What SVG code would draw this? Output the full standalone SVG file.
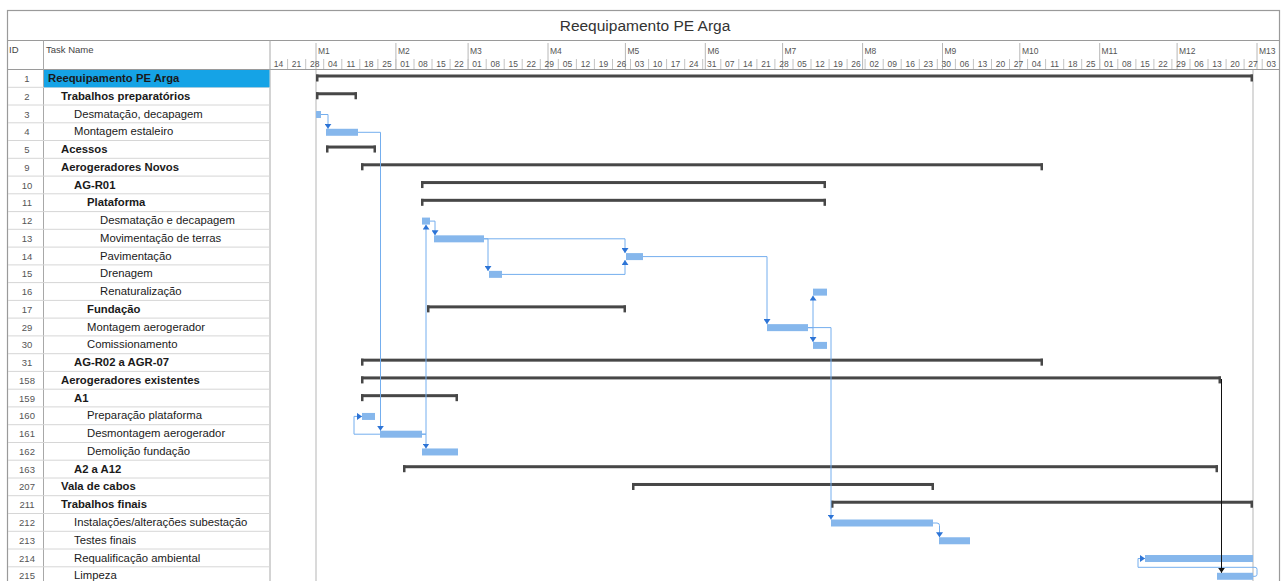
<svg xmlns="http://www.w3.org/2000/svg" width="1284" height="581" viewBox="0 0 1284 581">
<style>
text{font-family:"Liberation Sans",Arial,sans-serif}
.nm{font-size:11.3px;fill:#1a1a1a}
.b{font-weight:bold}
.id{font-size:9.5px;fill:#555;text-anchor:middle}
.hd{font-size:9.5px;fill:#444}
.ts{font-size:8.5px;fill:#555}
.wk{font-size:8.5px;fill:#555;text-anchor:middle}
.sb{fill:#474747}
.tb{fill:#86b7ec}
.cn{fill:none;stroke:#74aeee;stroke-width:1}
.grid{stroke:#d6d6d6;stroke-width:1}
.frame{fill:none;stroke:#9a9a9a;stroke-width:1.2}
</style>
<defs>
<marker id="ab" viewBox="0 0 5 7" refX="5" refY="3.5" markerWidth="5" markerHeight="7" markerUnits="userSpaceOnUse" orient="auto"><path d="M0,0 L5,3.5 L0,7 z" fill="#2d74d6"/></marker>
<marker id="ak" viewBox="0 0 5 7" refX="5" refY="3.5" markerWidth="5" markerHeight="7" markerUnits="userSpaceOnUse" orient="auto"><path d="M0,0 L5,3.5 L0,7 z" fill="#111"/></marker>
</defs>
<rect width="1284" height="581" fill="#fff"/>
<!-- frame -->
<rect class="frame" x="7.5" y="10.5" width="1272" height="580"/>
<line x1="7.5" y1="40.5" x2="1279.5" y2="40.5" stroke="#9a9a9a"/>
<line x1="7.5" y1="69.5" x2="1279.5" y2="69.5" stroke="#9a9a9a"/>
<line x1="43.5" y1="40.5" x2="43.5" y2="581" stroke="#a8a8a8"/>
<line x1="270" y1="40.5" x2="270" y2="581" stroke="#a8a8a8"/>
<text x="645" y="31" text-anchor="middle" style="font-size:15.5px;fill:#333">Reequipamento PE Arga</text>
<text class="hd" x="9" y="53">ID</text>
<text class="hd" x="46" y="53">Task Name</text>
<!-- timescale -->
<g id="timescale">
<path d="M316,43V69M395.9,43V69M468.1,43V69M548,43V69M625.4,43V69M705.3,43V69M782.6,43V69M862.6,43V69M942.5,43V69M1019.8,43V69M1099.7,43V69M1177.1,43V69M1257,43V69" stroke="#b8b8b8" stroke-width="1"/>
<path d="M287.6,59V69M305.7,59V69M323.7,59V69M341.8,59V69M359.8,59V69M377.9,59V69M395.9,59V69M414,59V69M432,59V69M450.1,59V69M468.1,59V69M486.2,59V69M504.2,59V69M522.2,59V69M540.3,59V69M558.3,59V69M576.4,59V69M594.4,59V69M612.5,59V69M630.5,59V69M648.6,59V69M666.6,59V69M684.7,59V69M702.7,59V69M720.8,59V69M738.8,59V69M756.9,59V69M774.9,59V69M793,59V69M811,59V69M829.1,59V69M847.1,59V69M865.1,59V69M883.2,59V69M901.2,59V69M919.3,59V69M937.3,59V69M955.4,59V69M973.4,59V69M991.5,59V69M1009.5,59V69M1027.6,59V69M1045.6,59V69M1063.7,59V69M1081.7,59V69M1099.8,59V69M1117.8,59V69M1135.9,59V69M1153.9,59V69M1171.9,59V69M1190,59V69M1208,59V69M1226.1,59V69M1244.1,59V69M1262.2,59V69" stroke="#c4c4c4" stroke-width="1"/>
<text class="ts" x="318" y="54">M1</text>
<text class="ts" x="398" y="54">M2</text>
<text class="ts" x="470" y="54">M3</text>
<text class="ts" x="550" y="54">M4</text>
<text class="ts" x="627.5" y="54">M5</text>
<text class="ts" x="707.5" y="54">M6</text>
<text class="ts" x="784.5" y="54">M7</text>
<text class="ts" x="864.5" y="54">M8</text>
<text class="ts" x="944.5" y="54">M9</text>
<text class="ts" x="1022" y="54">M10</text>
<text class="ts" x="1101.5" y="54">M11</text>
<text class="ts" x="1179" y="54">M12</text>
<text class="ts" x="1259" y="54">M13</text>
<text class="wk" x="278.6" y="67">14</text><text class="wk" x="296.6" y="67">21</text><text class="wk" x="314.7" y="67">28</text><text class="wk" x="332.7" y="67">04</text><text class="wk" x="350.8" y="67">11</text><text class="wk" x="368.8" y="67">18</text><text class="wk" x="386.9" y="67">25</text><text class="wk" x="404.9" y="67">01</text><text class="wk" x="423" y="67">08</text><text class="wk" x="441" y="67">15</text><text class="wk" x="459.1" y="67">22</text><text class="wk" x="477.1" y="67">01</text><text class="wk" x="495.2" y="67">08</text><text class="wk" x="513.2" y="67">15</text><text class="wk" x="531.3" y="67">22</text><text class="wk" x="549.3" y="67">29</text><text class="wk" x="567.4" y="67">05</text><text class="wk" x="585.4" y="67">12</text><text class="wk" x="603.4" y="67">19</text><text class="wk" x="621.5" y="67">26</text><text class="wk" x="639.5" y="67">03</text><text class="wk" x="657.6" y="67">10</text><text class="wk" x="675.6" y="67">17</text><text class="wk" x="693.7" y="67">24</text><text class="wk" x="711.7" y="67">31</text><text class="wk" x="729.8" y="67">07</text><text class="wk" x="747.8" y="67">14</text><text class="wk" x="765.9" y="67">21</text><text class="wk" x="783.9" y="67">28</text><text class="wk" x="802" y="67">05</text><text class="wk" x="820" y="67">12</text><text class="wk" x="838.1" y="67">19</text><text class="wk" x="856.1" y="67">26</text><text class="wk" x="874.2" y="67">02</text><text class="wk" x="892.2" y="67">09</text><text class="wk" x="910.2" y="67">16</text><text class="wk" x="928.3" y="67">23</text><text class="wk" x="946.3" y="67">30</text><text class="wk" x="964.4" y="67">06</text><text class="wk" x="982.4" y="67">13</text><text class="wk" x="1000.5" y="67">20</text><text class="wk" x="1018.5" y="67">27</text><text class="wk" x="1036.6" y="67">04</text><text class="wk" x="1054.6" y="67">11</text><text class="wk" x="1072.7" y="67">18</text><text class="wk" x="1090.7" y="67">25</text><text class="wk" x="1108.8" y="67">01</text><text class="wk" x="1126.8" y="67">08</text><text class="wk" x="1144.9" y="67">15</text><text class="wk" x="1162.9" y="67">22</text><text class="wk" x="1181" y="67">29</text><text class="wk" x="1199" y="67">06</text><text class="wk" x="1217" y="67">13</text><text class="wk" x="1235.1" y="67">20</text><text class="wk" x="1253.1" y="67">27</text><text class="wk" x="1271.2" y="67">03</text>
</g>
<!-- table grid -->
<path class="grid" d="M8,87.3H270M8,105H270M8,122.8H270M8,140.5H270M8,158.3H270M8,176.1H270M8,193.8H270M8,211.6H270M8,229.3H270M8,247.1H270M8,264.9H270M8,282.6H270M8,300.4H270M8,318.1H270M8,335.9H270M8,353.7H270M8,371.4H270M8,389.2H270M8,406.9H270M8,424.7H270M8,442.5H270M8,460.2H270M8,478H270M8,495.7H270M8,513.5H270M8,531.3H270M8,549H270M8,566.8H270"/>
<!-- project start / end lines -->
<path d="M316,70V581M1253,70V581" stroke="#b5b5b5" stroke-width="1"/>
<!-- rows -->
<g id="n1" transform="translate(0,69.5)"><rect x="44" y="0.5" width="225.5" height="17.3" fill="#15a3e6"/><text class="id" x="27" y="12.5">1</text><text class="nm b" x="48" y="12.5">Reequipamento PE Arga</text><rect class="sb" x="316" y="5" width="937" height="3"/><rect class="sb" x="316" y="5" width="2.5" height="7"/><rect class="sb" x="1250.5" y="5" width="2.5" height="7"/></g>
<g id="n2" transform="translate(0,87.26)"><text class="id" x="27" y="12.5">2</text><text class="nm b" x="61" y="12.5">Trabalhos preparatórios</text><rect class="sb" x="316" y="5" width="41" height="3"/><rect class="sb" x="316" y="5" width="2.5" height="7"/><rect class="sb" x="354.5" y="5" width="2.5" height="7"/></g>
<g id="n3" transform="translate(0,105.02)"><text class="id" x="27" y="12.5">3</text><text class="nm" x="74" y="12.5">Desmatação, decapagem</text><rect class="tb" x="316" y="6" width="5" height="7"/></g>
<g id="n4" transform="translate(0,122.78)"><text class="id" x="27" y="12.5">4</text><text class="nm" x="74" y="12.5">Montagem estaleiro</text><rect class="tb" x="326" y="6" width="32" height="7"/></g>
<g id="n5" transform="translate(0,140.54)"><text class="id" x="27" y="12.5">5</text><text class="nm b" x="61" y="12.5">Acessos</text><rect class="sb" x="326" y="5" width="50" height="3"/><rect class="sb" x="326" y="5" width="2.5" height="7"/><rect class="sb" x="373.5" y="5" width="2.5" height="7"/></g>
<g id="n9" transform="translate(0,158.3)"><text class="id" x="27" y="12.5">9</text><text class="nm b" x="61" y="12.5">Aerogeradores Novos</text><rect class="sb" x="361" y="5" width="682" height="3"/><rect class="sb" x="361" y="5" width="2.5" height="7"/><rect class="sb" x="1040.5" y="5" width="2.5" height="7"/></g>
<g id="n10" transform="translate(0,176.06)"><text class="id" x="27" y="12.5">10</text><text class="nm b" x="74" y="12.5">AG-R01</text><rect class="sb" x="421" y="5" width="405" height="3"/><rect class="sb" x="421" y="5" width="2.5" height="7"/><rect class="sb" x="823.5" y="5" width="2.5" height="7"/></g>
<g id="n11" transform="translate(0,193.82)"><text class="id" x="27" y="12.5">11</text><text class="nm b" x="87" y="12.5">Plataforma</text><rect class="sb" x="421" y="5" width="405" height="3"/><rect class="sb" x="421" y="5" width="2.5" height="7"/><rect class="sb" x="823.5" y="5" width="2.5" height="7"/></g>
<g id="n12" transform="translate(0,211.58)"><text class="id" x="27" y="12.5">12</text><text class="nm" x="100" y="12.5">Desmatação e decapagem</text><rect class="tb" x="422" y="6" width="8" height="7"/></g>
<g id="n13" transform="translate(0,229.34)"><text class="id" x="27" y="12.5">13</text><text class="nm" x="100" y="12.5">Movimentação de terras</text><rect class="tb" x="434" y="6" width="50" height="7"/></g>
<g id="n14" transform="translate(0,247.1)"><text class="id" x="27" y="12.5">14</text><text class="nm" x="100" y="12.5">Pavimentação</text><rect class="tb" x="626" y="6" width="17" height="7"/></g>
<g id="n15" transform="translate(0,264.86)"><text class="id" x="27" y="12.5">15</text><text class="nm" x="100" y="12.5">Drenagem</text><rect class="tb" x="489" y="6" width="13" height="7"/></g>
<g id="n16" transform="translate(0,282.62)"><text class="id" x="27" y="12.5">16</text><text class="nm" x="100" y="12.5">Renaturalização</text><rect class="tb" x="813" y="6" width="14" height="7"/></g>
<g id="n17" transform="translate(0,300.38)"><text class="id" x="27" y="12.5">17</text><text class="nm b" x="87" y="12.5">Fundação</text><rect class="sb" x="427" y="5" width="199" height="3"/><rect class="sb" x="427" y="5" width="2.5" height="7"/><rect class="sb" x="623.5" y="5" width="2.5" height="7"/></g>
<g id="n29" transform="translate(0,318.14)"><text class="id" x="27" y="12.5">29</text><text class="nm" x="87" y="12.5">Montagem aerogerador</text><rect class="tb" x="767" y="6" width="41" height="7"/></g>
<g id="n30" transform="translate(0,335.9)"><text class="id" x="27" y="12.5">30</text><text class="nm" x="87" y="12.5">Comissionamento</text><rect class="tb" x="813" y="6" width="14" height="7"/></g>
<g id="n31" transform="translate(0,353.66)"><text class="id" x="27" y="12.5">31</text><text class="nm b" x="74" y="12.5">AG-R02 a AGR-07</text><rect class="sb" x="361" y="5" width="682" height="3"/><rect class="sb" x="361" y="5" width="2.5" height="7"/><rect class="sb" x="1040.5" y="5" width="2.5" height="7"/></g>
<g id="n158" transform="translate(0,371.42)"><text class="id" x="27" y="12.5">158</text><text class="nm b" x="61" y="12.5">Aerogeradores existentes</text><rect class="sb" x="361" y="5" width="860" height="3"/><rect class="sb" x="361" y="5" width="2.5" height="7"/><rect class="sb" x="1218.5" y="5" width="2.5" height="7"/></g>
<g id="n159" transform="translate(0,389.18)"><text class="id" x="27" y="12.5">159</text><text class="nm b" x="74" y="12.5">A1</text><rect class="sb" x="361" y="5" width="97" height="3"/><rect class="sb" x="361" y="5" width="2.5" height="7"/><rect class="sb" x="455.5" y="5" width="2.5" height="7"/></g>
<g id="n160" transform="translate(0,406.94)"><text class="id" x="27" y="12.5">160</text><text class="nm" x="87" y="12.5">Preparação plataforma</text><rect class="tb" x="362" y="6" width="13" height="7"/></g>
<g id="n161" transform="translate(0,424.7)"><text class="id" x="27" y="12.5">161</text><text class="nm" x="87" y="12.5">Desmontagem aerogerador</text><rect class="tb" x="380" y="6" width="42" height="7"/></g>
<g id="n162" transform="translate(0,442.46)"><text class="id" x="27" y="12.5">162</text><text class="nm" x="87" y="12.5">Demolição fundação</text><rect class="tb" x="422" y="6" width="36" height="7"/></g>
<g id="n163" transform="translate(0,460.22)"><text class="id" x="27" y="12.5">163</text><text class="nm b" x="74" y="12.5">A2 a A12</text><rect class="sb" x="403" y="5" width="815" height="3"/><rect class="sb" x="403" y="5" width="2.5" height="7"/><rect class="sb" x="1215.5" y="5" width="2.5" height="7"/></g>
<g id="n207" transform="translate(0,477.98)"><text class="id" x="27" y="12.5">207</text><text class="nm b" x="61" y="12.5">Vala de cabos</text><rect class="sb" x="632" y="5" width="302" height="3"/><rect class="sb" x="632" y="5" width="2.5" height="7"/><rect class="sb" x="931.5" y="5" width="2.5" height="7"/></g>
<g id="n211" transform="translate(0,495.74)"><text class="id" x="27" y="12.5">211</text><text class="nm b" x="61" y="12.5">Trabalhos finais</text><rect class="sb" x="831" y="5" width="422" height="3"/><rect class="sb" x="831" y="5" width="2.5" height="7"/><rect class="sb" x="1250.5" y="5" width="2.5" height="7"/></g>
<g id="n212" transform="translate(0,513.5)"><text class="id" x="27" y="12.5">212</text><text class="nm" x="74" y="12.5">Instalações/alterações subestação</text><rect class="tb" x="831" y="6" width="102" height="7"/></g>
<g id="n213" transform="translate(0,531.26)"><text class="id" x="27" y="12.5">213</text><text class="nm" x="74" y="12.5">Testes finais</text><rect class="tb" x="939" y="6" width="31" height="7"/></g>
<g id="n214" transform="translate(0,549.02)"><text class="id" x="27" y="12.5">214</text><text class="nm" x="74" y="12.5">Requalificação ambiental</text><rect class="tb" x="1145" y="6" width="108" height="7"/></g>
<g id="n215" transform="translate(0,566.78)"><text class="id" x="27" y="12.5">215</text><text class="nm" x="74" y="12.5">Limpeza</text><rect class="tb" x="1217" y="6" width="36" height="7"/></g>
<!-- connectors -->
<g id="connectors">
<path class="cn" marker-end="url(#ab)" d="M321,114.5H328V128.8"/>
<path class="cn" marker-end="url(#ab)" d="M358,132.3H380.5V430.7"/>
<path class="cn" marker-end="url(#ab)" d="M430,221.1H435V235.3"/>
<path class="cn" marker-end="url(#ab)" d="M484,238.8H488V270.9"/>
<path class="cn" marker-end="url(#ab)" d="M484,238.8H625V253.1"/>
<path class="cn" marker-end="url(#ab)" d="M502,274.4H625V260.1"/>
<path class="cn" marker-end="url(#ab)" d="M643,256.6H767V324.1"/>
<path class="cn" marker-end="url(#ab)" d="M808,327.6H813V295.6"/>
<path class="cn" marker-end="url(#ab)" d="M808,327.6H813V341.9"/>
<path class="cn" marker-end="url(#ab)" d="M808,327.6H831V519.5"/>
<path class="cn" marker-end="url(#ab)" d="M421.7,434.2H426V224.6"/>
<path class="cn" marker-end="url(#ab)" d="M421.7,434.2H426V448.5"/>
<path class="cn" marker-end="url(#ab)" d="M380,434.2H354V416.4H362"/>
<path class="cn" marker-end="url(#ab)" d="M933,523H937Q939.5,523 939.5,525.5V537.3"/>
<path class="cn" marker-end="url(#ab)" d="M1253,576.3H1255Q1257,576.3 1257,574.3V569.3Q1257,567.3 1255,567.3H1138V558.5H1145"/>
<path fill="none" stroke="#111" stroke-width="1" marker-end="url(#ak)" d="M1221.5,379V572.8"/>
</g>
</svg>
